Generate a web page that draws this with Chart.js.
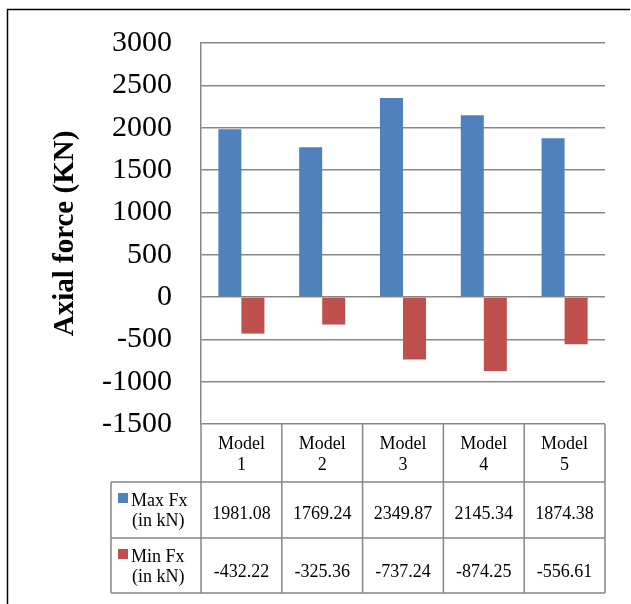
<!DOCTYPE html>
<html>
<head>
<meta charset="utf-8">
<script src="https://cdn.jsdelivr.net/npm/chart.js@4/dist/chart.umd.min.js"></script>
<style>
  html, body { margin: 0; padding: 0; background: #ffffff; overflow: hidden; }
  canvas { display: block; }
</style>
</head>
<body>
<canvas id="axialChart" width="631" height="604"></canvas>
<script>
// Categories (two-line header labels) and series values
const models = [['Model', '1'], ['Model', '2'], ['Model', '3'], ['Model', '4'], ['Model', '5']];
const maxFx = [1981.08, 1769.24, 2349.87, 2145.34, 1874.38];
const minFx = [-432.22, -325.36, -737.24, -874.25, -556.61];
const seriesLabels = [['Max Fx', '(in kN)'], ['Min Fx', '(in kN)']];
const yMin = -1500;
const yMax = 3000;
const yStep = 500;

const SERIF = "'Liberation Serif', 'Times New Roman', serif";
const GRID = '#878787';
const BLUE = '#4F81BD';
const RED = '#C0504D';

// Draws the white background, outer frame and the data table under the plot
const dataTablePlugin = {
  id: 'dataTable',
  beforeDraw(chart) {
    const ctx = chart.ctx;
    ctx.save();
    ctx.fillStyle = '#ffffff';
    ctx.fillRect(0, 0, chart.width, chart.height);
    ctx.strokeStyle = '#000000';
    ctx.lineWidth = 1.5;
    ctx.beginPath();
    ctx.moveTo(7.5, chart.height);
    ctx.lineTo(7.5, 9.5);
    ctx.lineTo(chart.width - 1, 9.5);
    ctx.stroke();
    ctx.restore();
  },
  afterDraw(chart) {
    const ctx = chart.ctx;
    const a = chart.chartArea;
    const x = chart.scales.x;
    const n = models.length;
    const colW = (a.right - a.left) / n;
    const rows = [a.bottom, a.bottom + 58, a.bottom + 114, a.bottom + 169];
    const legendLeft = 111;

    ctx.save();
    ctx.strokeStyle = GRID;
    ctx.lineWidth = 1.5;
    ctx.beginPath();
    // horizontal rules of the value rows
    for (let r = 1; r < rows.length; r++) {
      ctx.moveTo(legendLeft, rows[r]);
      ctx.lineTo(a.right, rows[r]);
    }
    // column separators
    for (let i = 0; i <= n; i++) {
      const cx = a.left + i * colW;
      ctx.moveTo(cx, rows[0]);
      ctx.lineTo(cx, rows[3]);
    }
    ctx.moveTo(legendLeft, rows[1]);
    ctx.lineTo(legendLeft, rows[3]);
    ctx.stroke();

    ctx.fillStyle = '#000000';
    ctx.font = '18px ' + SERIF;
    ctx.textAlign = 'center';
    ctx.textBaseline = 'alphabetic';
    for (let i = 0; i < n; i++) {
      const cx = x.getPixelForValue(i);
      ctx.fillText(models[i][0], cx, rows[0] + 25);
      ctx.fillText(models[i][1], cx, rows[0] + 46);
      ctx.fillText(maxFx[i].toFixed(2), cx, rows[1] + 37);
      ctx.fillText(minFx[i].toFixed(2), cx, rows[2] + 39);
    }

    // legend keys in the first column
    const keyColors = [BLUE, RED];
    ctx.textAlign = 'left';
    for (let s = 0; s < 2; s++) {
      const top = rows[s + 1];
      ctx.fillStyle = keyColors[s];
      ctx.fillRect(118, top + 11, 10, 10);
      ctx.fillStyle = '#000000';
      ctx.fillText(seriesLabels[s][0], 131, top + 24);
      ctx.fillText(seriesLabels[s][1], 132, top + 44);
    }
    ctx.restore();
  }
};

new Chart(document.getElementById('axialChart'), {
  type: 'bar',
  data: {
    labels: models,
    datasets: [
      { label: 'Max Fx (in kN)', data: maxFx, backgroundColor: BLUE, borderWidth: 0 },
      { label: 'Min Fx (in kN)', data: minFx, backgroundColor: RED, borderWidth: 0 }
    ]
  },
  options: {
    responsive: false,
    animation: false,
    devicePixelRatio: 1,
    layout: { padding: { left: 0, top: 43, right: 26, bottom: 180 } },
    datasets: { bar: { categoryPercentage: 0.57, barPercentage: 1.0 } },
    plugins: {
      legend: { display: false },
      tooltip: { enabled: false },
      title: { display: false }
    },
    scales: {
      x: { display: false },
      y: {
        min: yMin,
        max: yMax,
        afterFit(scale) { scale.width = 201; },
        grid: { color: GRID, lineWidth: 1.5, drawTicks: false },
        border: { color: GRID, width: 1.5 },
        ticks: {
          stepSize: yStep,
          padding: 29,
          color: '#000000',
          font: { family: SERIF, size: 30, lineHeight: 0.8 },
          callback: (value) => String(value)
        },
        title: {
          display: true,
          text: 'Axial force (KN)',
          color: '#000000',
          font: { family: SERIF, size: 29, weight: 'bold' },
          padding: { top: 48, bottom: 0 }
        }
      }
    }
  },
  plugins: [dataTablePlugin]
});
</script>
</body>
</html>
